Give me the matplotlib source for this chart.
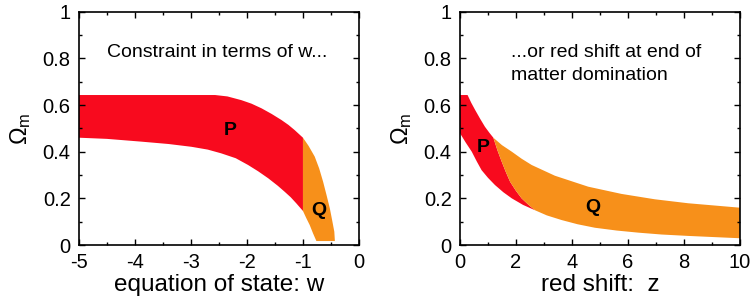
import matplotlib
matplotlib.use("Agg")
import matplotlib.pyplot as plt
from matplotlib.ticker import MultipleLocator

plt.rcParams['font.family'] = ['Liberation Sans', 'DejaVu Sans']
plt.rcParams['axes.unicode_minus'] = False
plt.rcParams['mathtext.fontset'] = 'custom'
plt.rcParams['mathtext.rm'] = 'Liberation Sans'
plt.rcParams['mathtext.it'] = 'Liberation Sans:italic'

# ---- Left panel data (w, Omega_m) ----
p_w_upper = [-5.0, -4.0, -3.0, -2.57, -2.35, -2.10, -1.92, -1.74, -1.56, -1.385, -1.26, -1.15, -1.0]
p_om_upper = [0.643, 0.643, 0.643, 0.643, 0.637, 0.621, 0.606, 0.586, 0.562, 0.536, 0.515, 0.493, 0.460]
p_w_lower = [-5.0, -4.5, -3.88, -3.4, -2.99, -2.7, -2.46, -2.2, -1.98, -1.80, -1.62, -1.45, -1.33, -1.22, -1.12, -1.0]
p_om_lower = [0.460, 0.455, 0.443, 0.433, 0.421, 0.409, 0.393, 0.372, 0.343, 0.316, 0.286, 0.254, 0.229, 0.205, 0.179, 0.146]

q_w_upper = [-1.0, -0.90, -0.79, -0.71, -0.64, -0.58, -0.52, -0.48, -0.44, -0.43]
q_om_upper = [0.460, 0.425, 0.379, 0.328, 0.271, 0.215, 0.157, 0.108, 0.057, 0.017]
q_w_lower = [-1.0, -0.94, -0.88, -0.82, -0.76]
q_om_lower = [0.146, 0.115, 0.086, 0.050, 0.017]

# ---- Right panel data (z, Omega_m) ----
rp_z_upper = [0.0, 0.27, 0.40, 0.54, 0.72, 0.89, 1.05, 1.19]
rp_om_upper = [0.643, 0.643, 0.610, 0.579, 0.541, 0.507, 0.481, 0.460]
rp_z_lower = [0.0, 0.20, 0.42, 0.60, 0.77, 1.0, 1.25, 1.55, 1.85, 2.25, 2.68]
rp_om_lower = [0.479, 0.440, 0.400, 0.358, 0.321, 0.288, 0.257, 0.226, 0.200, 0.172, 0.149]
r_z_split = [1.19, 1.34, 1.49, 1.64, 1.79, 2.0, 2.2, 2.45, 2.68]
r_om_split = [0.460, 0.405, 0.357, 0.312, 0.271, 0.232, 0.200, 0.172, 0.149]

rq_z_upper = [1.19, 1.50, 1.85, 2.20, 2.56, 3.39, 4.58, 5.77, 6.96, 8.15, 10.0]
rq_om_upper = [0.460, 0.428, 0.400, 0.370, 0.343, 0.297, 0.250, 0.219, 0.196, 0.179, 0.160]
rq_z_lower = [2.68, 3.1, 3.63, 4.2, 4.82, 5.6, 6.37, 7.2, 8.15, 10.0]
rq_om_lower = [0.149, 0.127, 0.107, 0.089, 0.074, 0.062, 0.053, 0.045, 0.039, 0.029]

RED = '#F80A1E'
ORANGE = '#F7901A'

fig = plt.figure(figsize=(7.53, 3.01), dpi=100)
ax1 = fig.add_axes([0.1049, 0.186, 0.3718, 0.775])
ax2 = fig.add_axes([0.6109, 0.186, 0.3718, 0.775])

# left panel bands
ax1.fill(p_w_upper + p_w_lower[::-1], p_om_upper + p_om_lower[::-1], color=RED, lw=0)
ax1.fill(q_w_upper + q_w_lower[::-1], q_om_upper + q_om_lower[::-1], color=ORANGE, lw=0)

# right panel bands
ax2.fill(rp_z_upper + r_z_split[1:] + rp_z_lower[::-1][1:],
         rp_om_upper + r_om_split[1:] + rp_om_lower[::-1][1:], color=RED, lw=0)
ax2.fill(rq_z_upper + rq_z_lower[::-1] + r_z_split[::-1][1:],
         rq_om_upper + rq_om_lower[::-1] + r_om_split[::-1][1:], color=ORANGE, lw=0)

for ax in (ax1, ax2):
    ax.set_ylim(0, 1)
    ax.yaxis.set_major_locator(MultipleLocator(0.2))
    ax.yaxis.set_minor_locator(MultipleLocator(0.1))
    ax.tick_params(which='both', direction='in', top=True, right=True,
                   labelsize=14.5)
    ax.tick_params(axis='y', pad=6)
    ax.tick_params(axis='x', pad=6)
    ax.tick_params(which='major', length=4, width=1)
    ax.tick_params(which='minor', length=2.5, width=1)
    ax.set_yticks([0, 0.2, 0.4, 0.6, 0.8, 1.0])
    ax.set_yticklabels(['0', '0.2', '0.4', '0.6', '0.8', '1'])
    for s in ax.spines.values():
        s.set_linewidth(1.2)
    ax.set_ylabel(r'$\Omega_\mathrm{m}$', fontsize=17, labelpad=7)

ax1.set_xlim(-5, 0)
ax1.xaxis.set_major_locator(MultipleLocator(1))
ax1.xaxis.set_minor_locator(MultipleLocator(0.5))
ax1.set_xlabel('equation of state: w', fontsize=17.5, labelpad=1)

ax2.set_xlim(0, 10)
ax2.xaxis.set_major_locator(MultipleLocator(2))
ax2.xaxis.set_minor_locator(MultipleLocator(1))
ax2.set_xlabel('red shift:  z', fontsize=17.5, labelpad=1)

ax1.text(-4.5, 0.827, 'Constraint in terms of w...', fontsize=14, va='center', ha='left')
ax2.text(1.82, 0.827, '...or red shift at end of', fontsize=14, va='center', ha='left')
ax2.text(1.82, 0.728, 'matter domination', fontsize=14, va='center', ha='left')

ax1.text(-2.30, 0.493, 'P', fontsize=14, fontweight='bold', ha='center', va='center')
ax1.text(-0.72, 0.15, 'Q', fontsize=14, fontweight='bold', ha='center', va='center')
ax2.text(0.83, 0.42, 'P', fontsize=14, fontweight='bold', ha='center', va='center')
ax2.text(4.76, 0.16, 'Q', fontsize=14, fontweight='bold', ha='center', va='center')

fig.savefig('out.png', dpi=100)
